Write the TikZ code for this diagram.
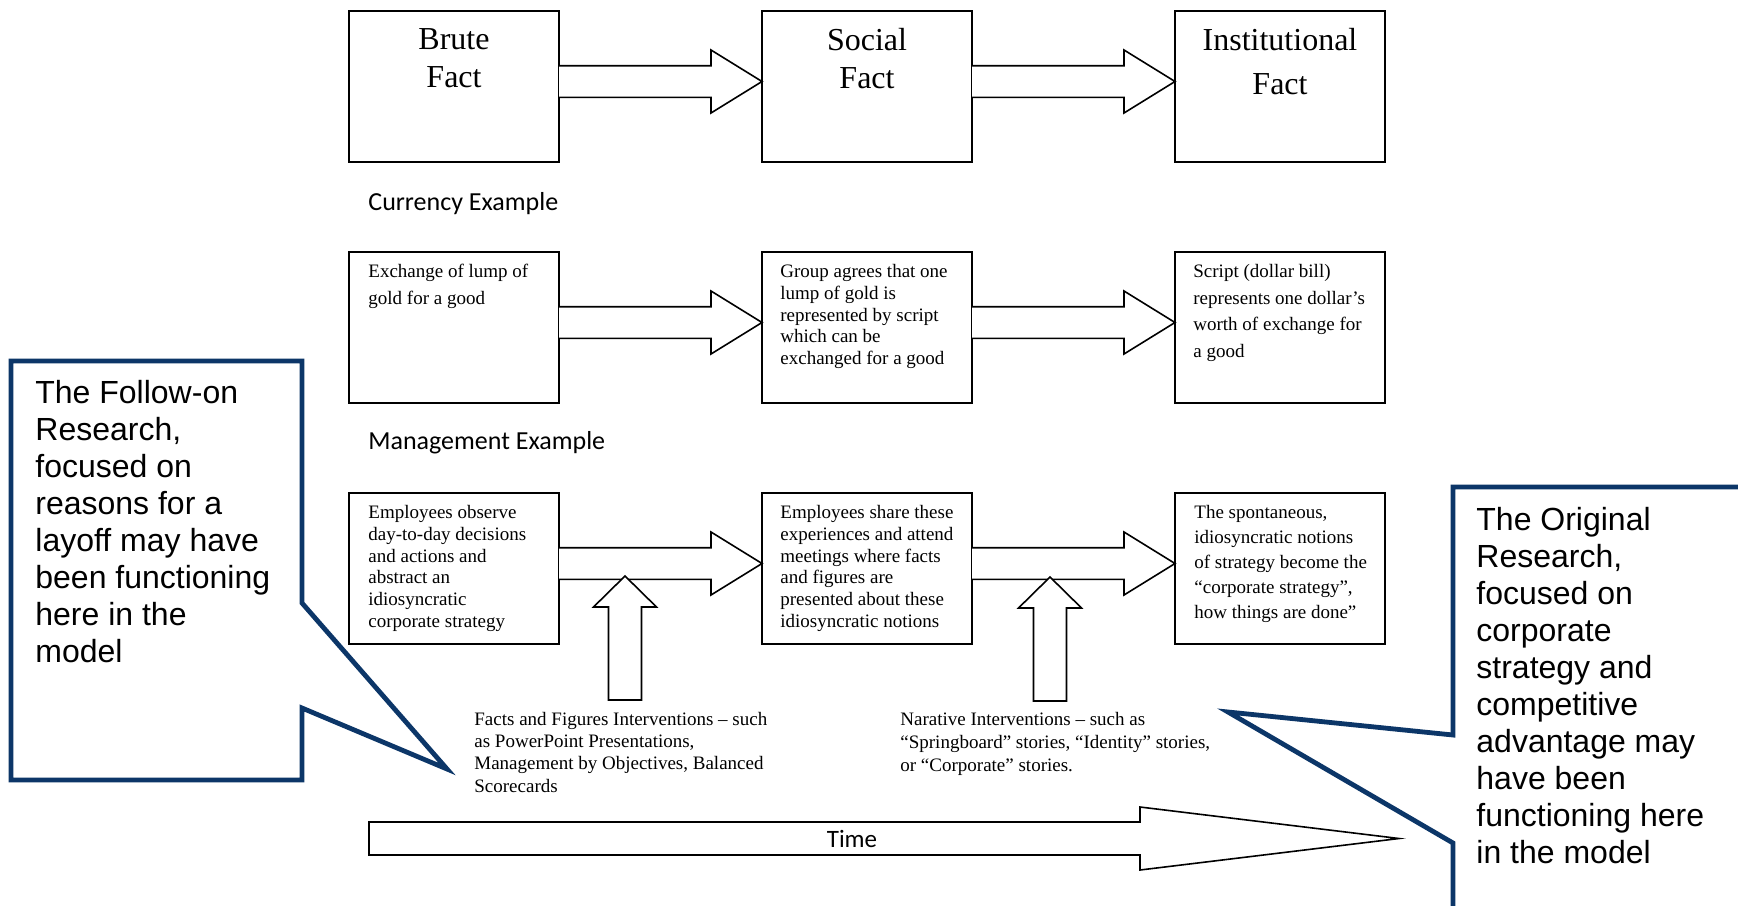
\documentclass[tikz,border=0pt]{standalone}
\usepackage{xcolor}
\usepackage{fontspec}
\setmainfont{Liberation Serif}
\newfontfamily\calloutfont{Liberation Sans}
\newfontfamily\labelfont{Carlito}
\usepackage{tikz}
\usetikzlibrary{positioning,calc}

\definecolor{calloutblue}{RGB}{12,54,104}

% fat arrow from the east side of one box to the west side of the next
\newcommand{\fatarrow}[2]{%
  \draw[blockarrow] ($(#1.east)+(0,10.4pt)$) -- ($(#2.west)+(-25.5pt,10.4pt)$)
    -- ($(#2.west)+(-25.5pt,18.25pt)$) -- ($(#2.west)+(0,2.5pt)$)
    -- ($(#2.west)+(-25.5pt,-13.25pt)$) -- ($(#2.west)+(-25.5pt,-5.4pt)$)
    -- ($(#1.east)+(0,-5.4pt)$);}
% upward fat arrow, #1 = tip, #2 = foot
\newcommand{\liftarrow}[2]{%
  \draw[blockarrow] (#1) -- ($(#1)+(15.75pt,-15.5pt)$) -- ($(#1)+(8.25pt,-15.5pt)$)
    -- ($(#2)+(8.25pt,0)$) -- ($(#2)+(-8.25pt,0)$)
    -- ($(#1)+(-8.25pt,-15.5pt)$) -- ($(#1)+(-15.75pt,-15.5pt)$) -- cycle;}

\begin{document}
\begin{tikzpicture}[x=0.5pt, y=-0.5pt]
            \tikzstyle{factbox} = [draw, rectangle, minimum width=105pt, minimum height=75.5pt, inner sep=0pt, outer sep=0pt, line width=0.8pt]
            \tikzstyle{headtext} = [inner sep=0pt, align=center, font=\fontsize{16}{19}\selectfont]
            \tikzstyle{boxtext} = [inner sep=0pt, align=left, font=\fontsize{9.5}{10.9}\selectfont]
            \tikzstyle{widetext} = [boxtext, font=\fontsize{9.5}{13.3}\selectfont]
            \tikzstyle{rowlabel} = [inner sep=0pt, anchor=base west, font=\labelfont\fontsize{13}{15}\selectfont]
            \tikzstyle{blockarrow} = [draw, line width=0.8pt, fill=white, line join=miter]
            \tikzstyle{callout} = [draw=calloutblue, line width=2.4pt, fill=white, line join=miter]
            \tikzstyle{callouttext} = [inner sep=0pt, align=left, anchor=north west, font=\calloutfont\fontsize{16}{18.5}\selectfont]

            \useasboundingbox (0,0) rectangle (1738,905);
            \clip (0,0) rectangle (1738,905);
            \fill[white] (0,0) rectangle (1738,905);

            % top row
            \node [factbox] (B1) at (454,86.5) {};
            \node [factbox, right = 101.5pt of B1] (B2) {};
            \node [factbox, right = 101.5pt of B2] (B3) {};
            \node [headtext, below = 8.6pt of B1.north] (B1t) {Brute\\Fact};
            \node [headtext, below = 8.3pt of B2.north] (B2t) {Social\\Fact};
            \node [headtext, below = 8.3pt of B3.north, font=\fontsize{16}{22}\selectfont] (B3t) {Institutional\\Fact};

            \node [rowlabel] (LC) at (368,210) {Currency Example};

            % currency row
            \node [factbox, below = 45pt of B1] (C1) {};
            \node [factbox, right = 101.5pt of C1] (C2) {};
            \node [factbox, right = 101.5pt of C2] (C3) {};
            \node [widetext, anchor=north west, below right = 6pt and 9.5pt of C1.north west] (C1t) {Exchange of lump of\\gold for a good};
            \node [boxtext, anchor=north west, below right = 6pt and 9pt of C2.north west] (C2t) {Group agrees that one\\lump of gold is\\represented by script\\which can be\\exchanged for a good};
            \node [widetext, anchor=north west, below right = 6pt and 9pt of C3.north west] (C3t) {Script (dollar bill)\\represents one dollar's\\worth of exchange for\\a good};

            \node [rowlabel] (LM) at (368,449) {Management Example};

            % management row
            \node [factbox, below = 45pt of C1] (M1) {};
            \node [factbox, right = 101.5pt of M1] (M2) {};
            \node [factbox, right = 101.5pt of M2] (M3) {};
            \node [boxtext, anchor=north west, below right = 6pt and 9.5pt of M1.north west] (M1t) {Employees observe\\day-to-day decisions\\and actions and\\abstract an\\idiosyncratic\\corporate strategy};
            \node [boxtext, anchor=north west, below right = 6pt and 9pt of M2.north west] (M2t) {Employees share these\\experiences and attend\\meetings where facts\\and figures are\\presented about these\\idiosyncratic notions};
            \node [boxtext, anchor=north west, below right = 6pt and 9.5pt of M3.north west, font=\fontsize{9.5}{12.5}\selectfont] (M3t) {The spontaneous,\\idiosyncratic notions\\of strategy become the\\``corporate strategy'',\\how things are done''};

            \fatarrow{B1}{B2}
            \fatarrow{B2}{B3}
            \fatarrow{C1}{C2}
            \fatarrow{C2}{C3}
            \fatarrow{M1}{M2}
            \fatarrow{M2}{M3}

            % interventions
            \node [boxtext, anchor=north west, font=\fontsize{9.5}{11.1}\selectfont] (F1) at (474,712) {Facts and Figures Interventions -- such\\as PowerPoint Presentations,\\Management by Objectives, Balanced\\Scorecards};
            \node [boxtext, anchor=north west, font=\fontsize{9.5}{11.5}\selectfont] (F2) at (900,712) {Narative Interventions -- such as\\``Springboard'' stories, ``Identity'' stories,\\or ``Corporate'' stories.};
            \coordinate (U1) at (625,576);
            \coordinate (U1b) at (625,700);
            \coordinate (U2) at (1050,577);
            \coordinate (U2b) at (1050,701);
            \liftarrow{U1}{U1b}
            \liftarrow{U2}{U2b}

            % time
            \coordinate (T0) at (369,838.5);
            \coordinate (T1) at (1399,838.5);
            \draw [blockarrow] ($(T0)+(0,8.25pt)$) -- ($(T1)+(-129.5pt,8.25pt)$) -- ($(T1)+(-129.5pt,15.75pt)$) -- (T1)
                -- ($(T1)+(-129.5pt,-15.75pt)$) -- ($(T1)+(-129.5pt,-8.25pt)$) -- ($(T0)+(0,-8.25pt)$) -- cycle;
            \node [font=\labelfont\fontsize{12.5}{15}\selectfont, inner sep=0pt] (TM) at (852,839) {Time};

            % callouts
            \draw [callout] (11,361) -- (302,361) -- (302,603) -- (447,769) -- (302,708) -- (302,780) -- (11,780) -- cycle;
            \node [callouttext] (K1) at (35,380) {The Follow-on\\Research,\\focused on\\reasons for a\\layoff may have\\been functioning\\here in the\\model};
            \draw [callout] (1453,487) -- (1760,487) -- (1760,930) -- (1453,930) -- (1453,843) -- (1228,712) -- (1453,735) -- cycle;
            \node [callouttext] (K2) at (1476,507) {The Original\\Research,\\focused on\\corporate\\strategy and\\competitive\\advantage may\\have been\\functioning here\\in the model};
        \end{tikzpicture}
\end{document}
